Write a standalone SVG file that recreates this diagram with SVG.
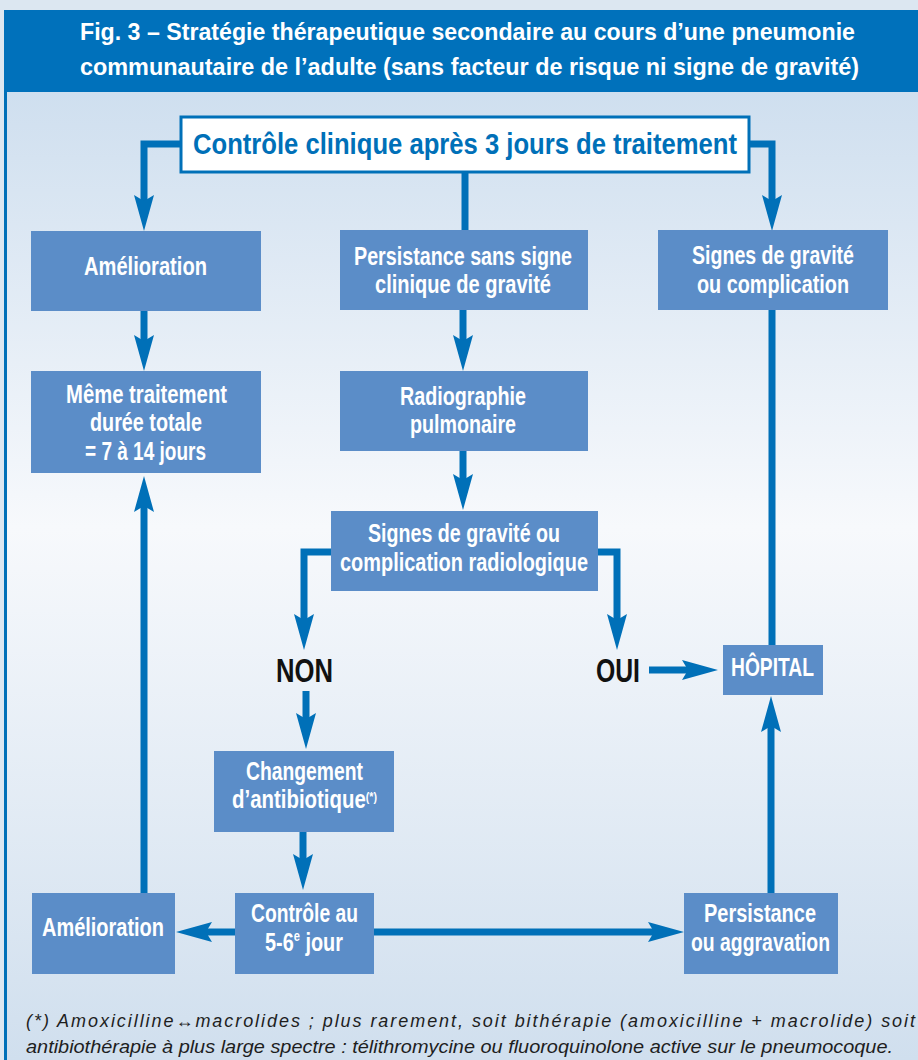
<svg xmlns="http://www.w3.org/2000/svg" width="918" height="1060" viewBox="0 0 918 1060">
<defs>
<linearGradient id="bg" x1="0" y1="92" x2="0" y2="1060" gradientUnits="userSpaceOnUse">
<stop offset="0" stop-color="#cfdfef"/>
<stop offset="0.45" stop-color="#f7f9fc"/>
<stop offset="1" stop-color="#d0dfee"/>
</linearGradient>
<marker id="ah" markerUnits="userSpaceOnUse" markerWidth="36" markerHeight="20" viewBox="0 0 36 20" refX="6" refY="10" orient="auto">
<path d="M0,0 L36,10 L0,20 L6,10 Z" fill="#0070b8"/>
</marker>
<style>
.box{fill:#5b8dc8}
.bt{font-family:"Liberation Sans",Arial,sans-serif;font-weight:bold;font-size:25px;fill:#ffffff}
.lbl{font-family:"Liberation Sans",Arial,sans-serif;font-weight:bold;font-size:33px;fill:#111111}
.hd{font-family:"Liberation Sans",Arial,sans-serif;font-weight:bold;font-size:24px;fill:#ffffff}
.fn{font-family:"Liberation Sans",Arial,sans-serif;font-style:italic;font-size:18px;fill:#1e1e1e}
.c{fill:none;stroke:#0070b8;stroke-width:7}
.ca{fill:none;stroke:#0070b8;stroke-width:7;marker-end:url(#ah)}
</style>
</defs>
<rect x="0" y="0" width="918" height="1060" fill="#dce7f1"/>
<rect x="4" y="92" width="914" height="968" fill="url(#bg)"/>
<rect x="4" y="92" width="3" height="968" fill="#0070b8"/>
<g id="header">
<rect x="4" y="10" width="914" height="82" fill="#0071bb"/>
<text class="hd" x="80" y="40" textLength="775" lengthAdjust="spacingAndGlyphs">Fig. 3 – Stratégie thérapeutique secondaire au cours d’une pneumonie</text>
<text class="hd" x="80" y="75" textLength="779" lengthAdjust="spacingAndGlyphs">communautaire de l’adulte (sans facteur de risque ni signe de gravité)</text>
</g>
<g id="connectors">
<path class="ca" d="M181,144 H144 V201"/>
<path class="ca" d="M749,144 H772 V201"/>
<path class="c" d="M465,172 V231"/>
<path class="ca" d="M144,311 V341"/>
<path class="ca" d="M463,310 V341"/>
<path class="ca" d="M463,451 V480"/>
<path class="ca" d="M331,552 H304 V620"/>
<path class="ca" d="M598,552 H617 V620"/>
<path class="ca" d="M306,691 V719"/>
<path class="ca" d="M649,670 H688"/>
<path class="c" d="M772,310 V646"/>
<path class="ca" d="M771,893 V726"/>
<path class="ca" d="M303,832 V860"/>
<path class="ca" d="M235,932 H206"/>
<path class="ca" d="M374,932 H654"/>
<path class="ca" d="M144,893 V506"/>
</g>
<g id="n-controle">
<rect x="181" y="117" width="568" height="55" fill="#ffffff" stroke="#0070b8" stroke-width="3"/>
<text x="193" y="154" textLength="544" lengthAdjust="spacingAndGlyphs" style="font-family:'Liberation Sans',Arial,sans-serif;font-weight:bold;font-size:29px;fill:#0070b8">Contrôle clinique après 3 jours de traitement</text>
</g>
<g id="n-amelioration1">
<rect class="box" x="31" y="231" width="230" height="80"/>
<text class="bt" x="84" y="275" textLength="123" lengthAdjust="spacingAndGlyphs">Amélioration</text>
</g>
<g id="n-persistance1">
<rect class="box" x="340" y="230" width="248" height="80"/>
<text class="bt" x="354" y="265" textLength="218" lengthAdjust="spacingAndGlyphs">Persistance sans signe</text>
<text class="bt" x="375" y="293" textLength="176" lengthAdjust="spacingAndGlyphs">clinique de gravité</text>
</g>
<g id="n-signes1">
<rect class="box" x="658" y="230" width="230" height="80"/>
<text class="bt" x="692" y="264" textLength="162" lengthAdjust="spacingAndGlyphs">Signes de gravité</text>
<text class="bt" x="697" y="293" textLength="152" lengthAdjust="spacingAndGlyphs">ou complication</text>
</g>
<g id="n-meme">
<rect class="box" x="31" y="371" width="230" height="102"/>
<text class="bt" x="66" y="403" textLength="161" lengthAdjust="spacingAndGlyphs">Même traitement</text>
<text class="bt" x="90" y="431" textLength="112" lengthAdjust="spacingAndGlyphs">durée totale</text>
<text class="bt" x="85" y="460" textLength="121" lengthAdjust="spacingAndGlyphs">= 7 à 14 jours</text>
</g>
<g id="n-radio">
<rect class="box" x="340" y="371" width="248" height="80"/>
<text class="bt" x="400" y="405" textLength="126" lengthAdjust="spacingAndGlyphs">Radiographie</text>
<text class="bt" x="410" y="433" textLength="106" lengthAdjust="spacingAndGlyphs">pulmonaire</text>
</g>
<g id="n-signes2">
<rect class="box" x="331" y="511" width="267" height="80"/>
<text class="bt" x="368" y="542" textLength="192" lengthAdjust="spacingAndGlyphs">Signes de gravité ou</text>
<text class="bt" x="340" y="571" textLength="248" lengthAdjust="spacingAndGlyphs">complication radiologique</text>
</g>
<g id="n-non">
<text class="lbl" x="276" y="682" textLength="57" lengthAdjust="spacingAndGlyphs">NON</text>
</g>
<g id="n-oui">
<text class="lbl" x="596" y="682" textLength="44" lengthAdjust="spacingAndGlyphs">OUI</text>
</g>
<g id="n-hopital">
<rect class="box" x="723" y="645" width="100" height="50"/>
<text class="bt" x="731" y="676" textLength="83" lengthAdjust="spacingAndGlyphs">HÔPITAL</text>
</g>
<g id="n-changement">
<rect class="box" x="214" y="751" width="180" height="81"/>
<text class="bt" x="246" y="780" textLength="117" lengthAdjust="spacingAndGlyphs">Changement</text>
<text class="bt" x="232" y="808" textLength="145" lengthAdjust="spacingAndGlyphs">d’antibiotique<tspan dy="-7" style="font-size:13px">(*)</tspan></text>
</g>
<g id="n-controle56">
<rect class="box" x="235" y="893" width="139" height="81"/>
<text class="bt" x="251" y="922" textLength="107" lengthAdjust="spacingAndGlyphs">Contrôle au</text>
<text class="bt" x="265" y="951" textLength="78" lengthAdjust="spacingAndGlyphs">5-6<tspan dy="-10" style="font-size:14px">e</tspan><tspan dy="10"> jour</tspan></text>
</g>
<g id="n-amelioration2">
<rect class="box" x="32" y="893" width="143" height="81"/>
<text class="bt" x="42" y="936" textLength="122" lengthAdjust="spacingAndGlyphs">Amélioration</text>
</g>
<g id="n-persistance2">
<rect class="box" x="684" y="893" width="154" height="81"/>
<text class="bt" x="704" y="922" textLength="112" lengthAdjust="spacingAndGlyphs">Persistance</text>
<text class="bt" x="691" y="951" textLength="139" lengthAdjust="spacingAndGlyphs">ou aggravation</text>
</g>
<g id="footnote">
<text class="fn" x="26" y="1027" textLength="889" lengthAdjust="spacing">(*) Amoxicilline↔macrolides ; plus rarement, soit bithérapie (amoxicilline + macrolide) soit</text>
<text class="fn" x="26" y="1053" textLength="867" lengthAdjust="spacingAndGlyphs">antibiothérapie à plus large spectre : télithromycine ou fluoroquinolone active sur le pneumocoque.</text>
</g>
</svg>
